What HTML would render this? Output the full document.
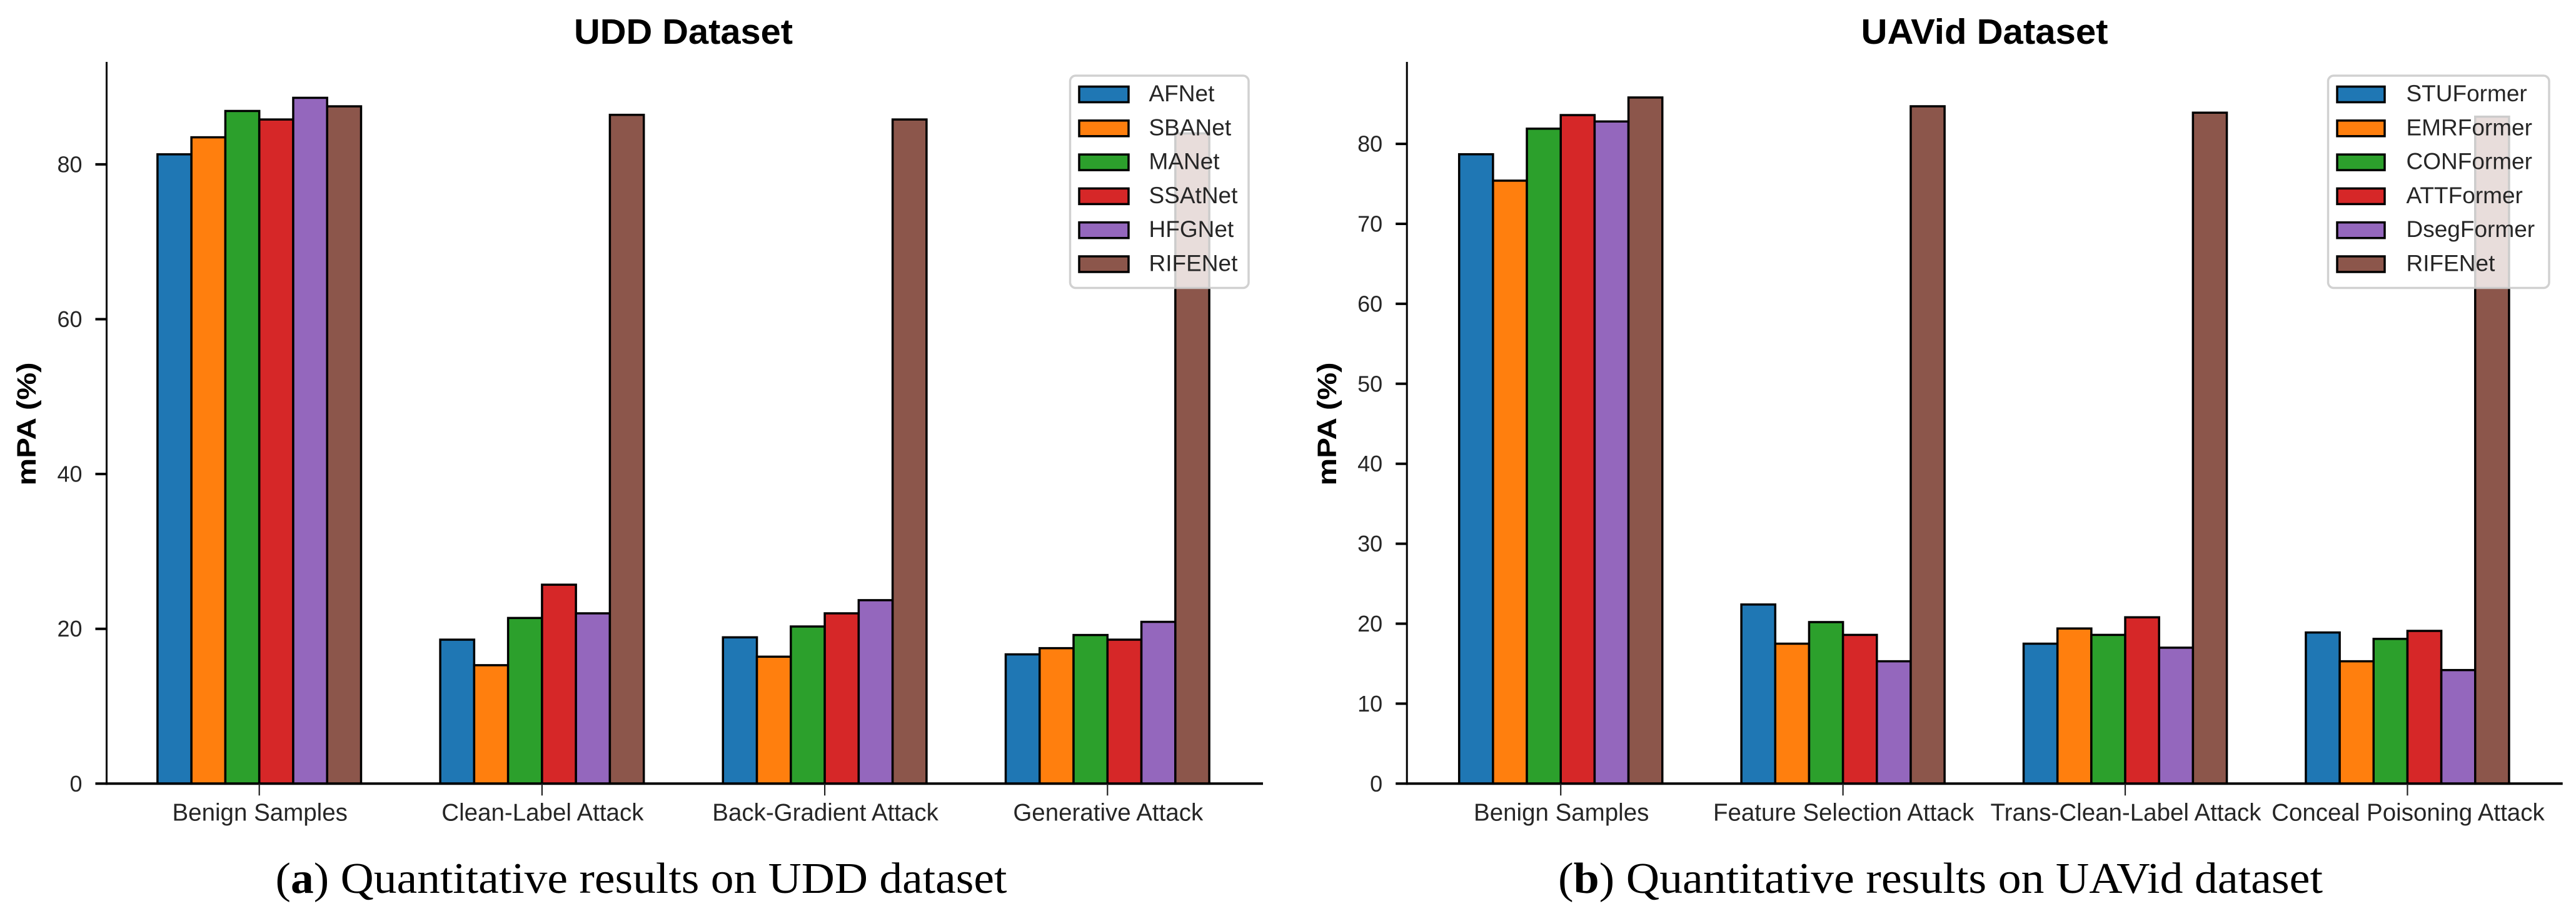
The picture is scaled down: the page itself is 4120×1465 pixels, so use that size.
<!DOCTYPE html>
<html lang="en">
<head>
<meta charset="utf-8">
<title>Quantitative results on UDD and UAVid datasets</title>
<style>
html,body{margin:0;padding:0;background:#fff;width:4120px;height:1465px;overflow:hidden}
svg{display:block}
text{font-family:"Liberation Sans",Arial,sans-serif}
.caption{font-family:"Liberation Serif","Times New Roman",serif;font-size:70px;fill:#000}
</style>
</head>
<body>
<svg id="figure" xmlns="http://www.w3.org/2000/svg" width="4120" height="1465" viewBox="0 0 4120 1465">
  <rect x="0" y="0" width="4120" height="1465" fill="#fff"/>
  <text class="caption" x="440.5" y="1428" textLength="1170" lengthAdjust="spacingAndGlyphs">(<tspan font-weight="bold">a</tspan>) Quantitative results on UDD dataset</text>
  <text class="caption" x="2492" y="1428" textLength="1223" lengthAdjust="spacingAndGlyphs">(<tspan font-weight="bold">b</tspan>) Quantitative results on UAVid dataset</text>
</svg>
<script>
// ---- Chart data ----
const uddCategories = ["Benign Samples", "Clean-Label Attack", "Back-Gradient Attack", "Generative Attack"];
const uddSeriesNames = ["AFNet", "SBANet", "MANet", "SSAtNet", "HFGNet", "RIFENet"];
const uddAFNet = [81.3, 18.6, 18.9, 16.7];
const uddSBANet = [83.5, 15.3, 16.4, 17.5];
const uddMANet = [86.9, 21.4, 20.3, 19.2];
const uddSSAtNet = [85.8, 25.7, 22.0, 18.6];
const uddHFGNet = [88.6, 22.0, 23.7, 20.9];
const uddRIFENet = [87.5, 86.4, 85.8, 84.0];
const uddTicks = [0, 20, 40, 60, 80];

const uavCategories = ["Benign Samples", "Feature Selection Attack", "Trans-Clean-Label Attack", "Conceal Poisoning Attack"];
const uavSeriesNames = ["STUFormer", "EMRFormer", "CONFormer", "ATTFormer", "DsegFormer", "RIFENet"];
const uavSTUFormer = [78.7, 22.4, 17.5, 18.9];
const uavEMRFormer = [75.4, 17.5, 19.4, 15.3];
const uavCONFormer = [81.9, 20.2, 18.6, 18.1];
const uavATTFormer = [83.6, 18.6, 20.8, 19.1];
const uavDsegFormer = [82.8, 15.3, 17.0, 14.2];
const uavRIFENet = [85.8, 84.7, 83.9, 83.4];
const uavTicks = [0, 10, 20, 30, 40, 50, 60, 70, 80];

const barColors = ["#1f77b4", "#ff7f0e", "#2ca02c", "#d62728", "#9467bd", "#8c564b"];

// ---- Drawing ----
const NS = "http://www.w3.org/2000/svg";
const root = document.getElementById("figure");

function make(tag, attrs, parent) {
  const node = document.createElementNS(NS, tag);
  for (const key in attrs) node.setAttribute(key, attrs[key]);
  parent.appendChild(node);
  return node;
}

function drawPanel(p) {
  const xScale = v => p.left + (v - p.xMin) / (p.xMax - p.xMin) * (p.right - p.left);
  const yScale = v => p.bottom - v / p.yMax * (p.bottom - p.top);
  const barWidth = 0.12;

  const g = make("g", {}, root);
  
  

  // bars
  p.series.forEach((values, s) => {
    values.forEach((value, c) => {
      const x0 = xScale(c + (s - 3) * barWidth);
      const x1 = xScale(c + (s - 2) * barWidth);
      const bar = make("rect", {
        x: x0, y: yScale(value), width: x1 - x0, height: yScale(0) - yScale(value),
        fill: barColors[s], stroke: "#000", "stroke-width": 3.5
      }, g);
      
      
    });
  });

  // axis spines
  const leftSpine = make("line", {x1: p.left, x2: p.left, y1: p.top, y2: p.bottom + 2, stroke: "#000", "stroke-width": 3}, g);
  
  
  const bottomSpine = make("line", {x1: p.left, x2: p.right, y1: p.bottom, y2: p.bottom, stroke: "#000", "stroke-width": 4}, g);
  
  

  // y ticks
  p.ticks.forEach(t => {
    const y = yScale(t);
    const tick = make("line", {x1: p.left - 18, x2: p.left, y1: y, y2: y, stroke: "#000", "stroke-width": 4}, g);
    
    
    const label = make("text", {x: p.left - 39, y: y + 12.5, "text-anchor": "end", "font-size": 36, fill: "#262626"}, g);
    label.textContent = String(t);
    
    
  });

  // x ticks
  p.categories.forEach((name, c) => {
    const x = xScale(c);
    const tick = make("line", {x1: x, x2: x, y1: p.bottom, y2: p.bottom + 19, stroke: "#222", "stroke-width": 2.2}, g);
    
    
    const label = make("text", {x: x + 1, y: 1312.5, "text-anchor": "middle", "font-size": 38.5, fill: "#262626"}, g);
    label.textContent = name;
    
    
  });

  // title
  const title = make("text", {
    x: p.titleX, y: 70, "text-anchor": "middle", "font-size": 57, "font-weight": "bold", fill: "#000",
    textLength: p.titleLength, lengthAdjust: "spacingAndGlyphs"
  }, g);
  title.textContent = p.title;
  
  

  // y-axis title
  const yTitle = make("text", {
    x: 0, y: 0, "text-anchor": "middle", "font-size": 43, "font-weight": "bold", fill: "#000",
    textLength: 197, lengthAdjust: "spacingAndGlyphs",
    transform: "translate(" + p.yTitleX + ",678) rotate(-90)"
  }, g);
  yTitle.textContent = "mPA (%)";
  
  

  // legend
  const legend = make("g", {}, g);
  
  
  const box = make("rect", {
    x: p.legendLeft, y: 121, width: p.legendRight - p.legendLeft, height: 339.5, rx: 9, ry: 9,
    fill: "#fff", "fill-opacity": 0.8, stroke: "#cccccc", "stroke-opacity": 0.9, "stroke-width": 3.5
  }, legend);
  
  
  p.names.forEach((name, s) => {
    const cy = 151 + s * 54.3;
    const swatch = make("rect", {
      x: p.legendLeft + 14.5, y: cy - 12.5, width: p.swatchWidth, height: 25,
      fill: barColors[s], stroke: "#000", "stroke-width": 3.5
    }, legend);
    
    
    const entry = make("text", {x: p.legendText, y: cy + 11, "font-size": 37, fill: "#262626"}, legend);
    entry.textContent = name;
    
    
  });
}

drawPanel({
  id: "udd", title: "UDD Dataset", titleX: 1093, titleLength: 350,
  categories: uddCategories, names: uddSeriesNames, ticks: uddTicks,
  series: [uddAFNet, uddSBANet, uddMANet, uddSSAtNet, uddHFGNet, uddRIFENet],
  left: 170.5, right: 2020, top: 99, bottom: 1253.3, xMin: -0.54, xMax: 3.55, yMax: 93.24,
  yTitleX: 57, legendLeft: 1711.5, legendRight: 1997, legendText: 1837.5, swatchWidth: 79
});

drawPanel({
  id: "uavid", title: "UAVid Dataset", titleX: 3174, titleLength: 395,
  categories: uavCategories, names: uavSeriesNames, ticks: uavTicks,
  series: [uavSTUFormer, uavEMRFormer, uavCONFormer, uavATTFormer, uavDsegFormer, uavRIFENet],
  left: 2250.2, right: 4098.7, top: 99, bottom: 1253.3, xMin: -0.545, xMax: 3.55, yMax: 90.25,
  yTitleX: 2137, legendLeft: 3723.5, legendRight: 4077, legendText: 3848.5, swatchWidth: 76
});
</script>
</body>
</html>
